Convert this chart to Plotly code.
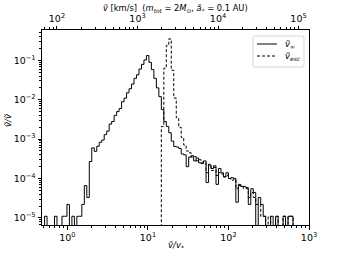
import numpy as np
import plotly.graph_objects as go

# ---- data ----
# histogram bin range in units of v/v*  (100 log-spaced bins)
bin_lo = 0.52
bin_hi = 633.0
n_bins = 100

v_inf = [
    1.1e-5, 0, 0, 0, 1.1e-5, 0, 0, 1.1e-5, 1.1e-5, 2.2e-5,
    0, 1.1e-5, 0, 1.1e-5, 1.1e-5, 2.2e-5, 6.6e-5, 3.3e-5, 2.7e-4, 6.0e-4,
    4.9e-4, 6.6e-4, 8.3e-4, 9.5e-4, 1.3e-3, 1.6e-3, 2.4e-3, 2.8e-3, 4.0e-3, 5.0e-3,
    6.0e-3, 8.9e-3, 1.1e-2, 1.5e-2, 1.9e-2, 2.5e-2, 3.5e-2, 4.3e-2, 6.0e-2, 7.9e-2,
    0.102, 0.132, 8.9e-2, 5.8e-2, 3.5e-2, 2.0e-2, 1.2e-2, 5.6e-3, 2.8e-3, 2.1e-3,
    1.45e-3, 8.9e-4, 6.5e-4, 6.3e-4, 5.8e-4, 4.2e-4, 4.0e-4, 2.0e-4, 3.5e-4, 3.8e-4,
    2.8e-4, 3.3e-4, 2.5e-4, 2.4e-4, 2.8e-4, 7.9e-5, 2.2e-4, 1.8e-4, 2.1e-4, 7.1e-5,
    1.8e-4, 1.4e-4, 1.1e-4, 1.4e-4, 1.0e-4, 1.05e-4, 1.0e-4, 2.5e-5, 7.1e-5, 6.3e-5,
    6.3e-5, 5.9e-5, 2.2e-5, 5.5e-5, 4.4e-5, 0, 3.3e-5, 2.2e-5, 1.1e-5, 0,
    0, 1.1e-5, 0, 1.1e-5, 0, 0, 1.1e-5, 0, 1.1e-5, 1.1e-5,
]

v_esc = [0] * 47 + [
    2.1e-3, 6.3e-2, 0.24,
    0.35, 5.6e-2, 1.1e-2, 3.5e-3, 2.0e-3, 1.1e-3, 7.1e-4, 5.0e-4, 4.5e-4, 3.5e-4,
    3.6e-4, 2.8e-4, 3.0e-4, 2.6e-4, 2.5e-4, 1.4e-4, 2.3e-4, 1.6e-4, 1.9e-4, 1.2e-4,
    1.4e-4, 1.3e-4, 1.1e-4, 1.2e-4, 1.0e-4, 9.0e-5, 9.5e-5, 5.5e-5, 6.6e-5, 6.3e-5,
    5.5e-5, 5.5e-5, 3.3e-5, 4.4e-5, 3.3e-5, 2.2e-5, 2.2e-5, 1.1e-5, 1.1e-5, 0,
    1.1e-5, 0, 0, 1.1e-5, 0, 0, 1.1e-5, 0, 1.1e-5, 1.1e-5,
]

series_names = ["<i>ṽ</i><sub>∞</sub>", "<i>ṽ<sub>esc</sub></i>"]

x_tick_vals = [1, 10, 100, 1000]
x_tick_text = ["10<sup>0</sup>", "10<sup>1</sup>", "10<sup>2</sup>", "10<sup>3</sup>"]
top_tick_vals = [1e2, 1e3, 1e4, 1e5]
top_tick_text = ["10<sup>2</sup>", "10<sup>3</sup>", "10<sup>4</sup>", "10<sup>5</sup>"]
y_tick_vals = [1e-5, 1e-4, 1e-3, 1e-2, 1e-1]
y_tick_text = ["10<sup>\u22125</sup>", "10<sup>\u22124</sup>", "10<sup>\u22123</sup>",
               "10<sup>\u22122</sup>", "10<sup>\u22121</sup>"]

x_title = "<i>ṽ/v</i><sub>*</sub>"
y_title = "<i>ṽ/ṽ</i>"
top_title = "<i>ṽ</i> [km/s]  (<i>m<sub>tot</sub></i> = 2<i>M</i><sub>⊙</sub>, <i>ã</i><sub>*</sub> = 0.1 AU)"

kms_factor_log = 2.13   # log10 of km/s per unit v/v*

# ---- plotting ----
edges = np.logspace(np.log10(bin_lo), np.log10(bin_hi), n_bins + 1)
FLOOR = 1e-9  # empty bins drop below the axis (as in a log-scale step histogram)


def step_xy(vals):
    v = [val if val > 0 else FLOOR for val in vals]
    xs = [edges[0]] + list(edges)
    ys = [FLOOR] + v + [FLOOR]
    return xs, ys


xr = [-0.316, 3.0]
yr = [-5.18, -0.23]
DASH = "3px,2px"

fig = go.Figure()
xs, ys = step_xy(v_inf)
fig.add_trace(go.Scatter(x=xs, y=ys, mode="lines", line=dict(shape="hv", color="black", width=1),
                         name=series_names[0], showlegend=False))
xs, ys = step_xy(v_esc)
fig.add_trace(go.Scatter(x=xs, y=ys, mode="lines", line=dict(shape="hv", color="black", width=1, dash=DASH),
                         name=series_names[1], showlegend=False))
# invisible trace to carry the top axis
fig.add_trace(go.Scatter(x=[10 ** (xr[0] + kms_factor_log), 10 ** (xr[1] + kms_factor_log)], y=[1e-3, 1e-3],
                         xaxis="x2", mode="markers", marker=dict(opacity=0), showlegend=False, hoverinfo="skip"))


def minors(lo, hi):
    out = []
    for k in range(lo, hi):
        for m in range(2, 10):
            out.append(m * 10.0 ** k)
    return out


W, H = 344, 258
M_L, M_R, M_T, M_B = 42, 35, 30, 33
plot_w = W - M_L - M_R
plot_h = H - M_T - M_B


def px(x):
    return (x - M_L) / plot_w


def py(y):
    return 1 - (y - M_T) / plot_h


# legend drawn as a box, sample lines and text (pixel layout of the reference legend)
lx0, lx1, ly0, ly1 = 253, 304, 36, 67
r = 2
legend_box = (f"M {px(lx0 + r)},{py(ly0)} L {px(lx1 - r)},{py(ly0)} Q {px(lx1)},{py(ly0)} {px(lx1)},{py(ly0 + r)} "
              f"L {px(lx1)},{py(ly1 - r)} Q {px(lx1)},{py(ly1)} {px(lx1 - r)},{py(ly1)} "
              f"L {px(lx0 + r)},{py(ly1)} Q {px(lx0)},{py(ly1)} {px(lx0)},{py(ly1 - r)} "
              f"L {px(lx0)},{py(ly0 + r)} Q {px(lx0)},{py(ly0)} {px(lx0 + r)},{py(ly0)} Z")
shapes = [
    dict(type="path", xref="paper", yref="paper", path=legend_box,
         line=dict(color="#d6d6d6", width=1), fillcolor="rgba(255,255,255,0.8)", layer="above"),
]
legend_rows = [44, 56]
legend_dash = ["solid", DASH]
annotations = []
for name, yy, dsh in zip(series_names, legend_rows, legend_dash):
    shapes.append(dict(type="line", xref="paper", yref="paper", x0=px(257), x1=px(277), y0=py(yy), y1=py(yy),
                       line=dict(color="black", width=1, dash=dsh), layer="above"))
    annotations.append(dict(text=name, xref="paper", yref="paper", x=px(283), y=py(yy + 1),
                            xanchor="left", yanchor="middle", showarrow=False,
                            font=dict(family="DejaVu Sans", size=8.5)))

annotations += [
    dict(text=x_title, xref="paper", yref="paper", x=0.5, y=py(245),
         xanchor="center", yanchor="middle", showarrow=False,
         font=dict(family="DejaVu Sans", size=8.5)),
    dict(text=top_title, xref="paper", yref="paper", x=0.5, y=py(8.5),
         xanchor="center", yanchor="middle", showarrow=False,
         font=dict(family="DejaVu Sans", size=8.3)),
    dict(text=y_title, xref="paper", yref="paper", x=px(8), y=py(120),
         xanchor="center", yanchor="middle", showarrow=False,
         textangle=-90, font=dict(family="DejaVu Sans", size=8.5)),
]

fig.update_layout(
    width=W, height=H,
    margin=dict(l=M_L, r=M_R, t=M_T, b=M_B),
    paper_bgcolor="white", plot_bgcolor="white",
    font=dict(family="DejaVu Sans", size=9, color="black"),
    showlegend=False,
    xaxis=dict(type="log", range=xr, showgrid=False, zeroline=False, automargin=False,
               showline=True, linecolor="black", linewidth=1, mirror=False,
               ticks="outside", ticklen=3.5, tickwidth=0.8, tickcolor="black",
               tickmode="array", tickvals=x_tick_vals, ticktext=x_tick_text,
               tickfont=dict(family="DejaVu Sans", size=9.5),
               minor=dict(tickmode="array", tickvals=minors(-1, 3), ticks="outside",
                          ticklen=2, tickwidth=0.6, tickcolor="black")),
    xaxis2=dict(type="log", overlaying="x", side="top", anchor="y", automargin=False,
                range=[xr[0] + kms_factor_log, xr[1] + kms_factor_log],
                showgrid=False, zeroline=False, showline=True, linecolor="black", linewidth=1,
                ticks="outside", ticklen=3.5, tickwidth=0.8, tickcolor="black",
                tickmode="array", tickvals=top_tick_vals, ticktext=top_tick_text,
                tickfont=dict(family="DejaVu Sans", size=9.5),
                minor=dict(tickmode="array", tickvals=minors(1, 6), ticks="outside",
                           ticklen=2, tickwidth=0.6, tickcolor="black")),
    yaxis=dict(type="log", range=yr, showgrid=False, zeroline=False, automargin=False,
               showline=True, linecolor="black", linewidth=1, mirror=True,
               ticks="outside", ticklen=3.5, tickwidth=0.8, tickcolor="black",
               tickmode="array", tickvals=y_tick_vals, ticktext=y_tick_text,
               tickfont=dict(family="DejaVu Sans", size=9.5),
               minor=dict(tickmode="array", tickvals=minors(-6, 0), ticks="outside",
                          ticklen=2, tickwidth=0.6, tickcolor="black")),
    shapes=shapes,
    annotations=annotations,
)

fig.write_html("out.html", config={"displayModeBar": False},
               post_script="document.body.style.margin='0';")
